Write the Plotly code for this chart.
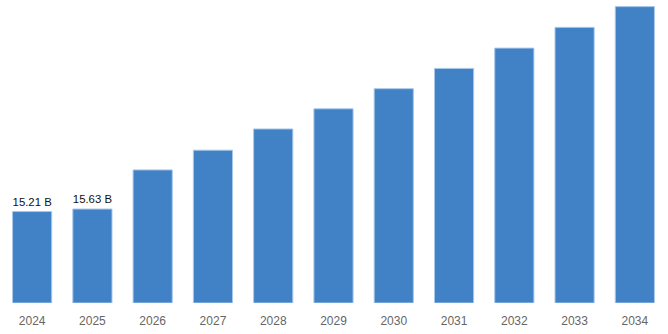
import plotly.graph_objects as go

years = ["2024", "2025", "2026", "2027", "2028", "2029", "2030", "2031", "2032", "2033", "2034"]
market_size = [15.21, 15.63, 22.14, 25.42, 28.95, 32.30, 35.65, 39.02, 42.40, 45.85, 49.30]
labelled_years = ["2024", "2025"]

bar_text = [f"{v:.2f} B" if y in labelled_years else "" for y, v in zip(years, market_size)]

fig = go.Figure(
    go.Bar(
        x=years,
        y=market_size,
        text=bar_text,
        textposition="outside",
        cliponaxis=False,
        textfont=dict(family="Liberation Sans, Arial, sans-serif", size=12, color="#111111"),
        marker=dict(color="#4182c6", line=dict(color="#a9c8ea", width=1)),
        width=0.65,
    )
)

fig.update_layout(
    width=668,
    height=334,
    margin=dict(l=2, r=3, t=0, b=31),
    paper_bgcolor="white",
    plot_bgcolor="white",
    showlegend=False,
    xaxis=dict(
        showgrid=False,
        showline=False,
        ticks="",
        ticklabelstandoff=9,
        tickfont=dict(family="Liberation Sans, Arial, sans-serif", size=12, color="#666666"),
    ),
    yaxis=dict(range=[0, 50.4], visible=False, showgrid=False),
)

fig.write_html("out.html")
